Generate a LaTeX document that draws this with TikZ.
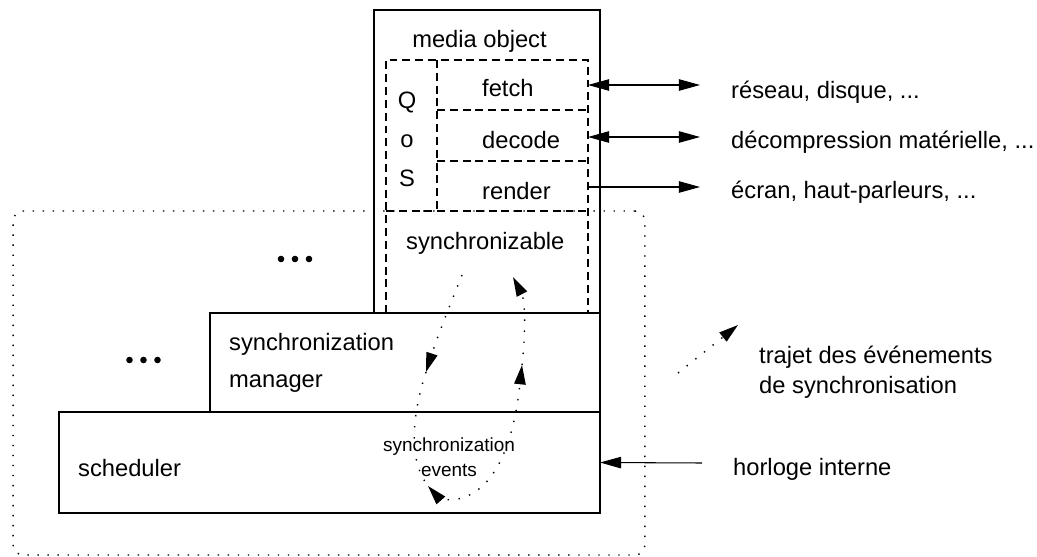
\documentclass[tikz,border=0pt]{standalone}
\usepackage{fontspec}
\setmainfont{Liberation Sans}
\usetikzlibrary{arrows.meta, positioning}

\begin{document}
\begin{tikzpicture}[
        x=0.02cm, y=-0.02cm,
        font=\fontsize{13.5}{21}\selectfont,
        layer/.style={rectangle, draw, line width=0.7pt, inner sep=0pt, outer sep=0pt},
        part/.style={line width=0.6pt, dash pattern=on 4.5pt off 2.8pt},
        syncregion/.style={rectangle, draw, line width=0.8pt, dash pattern=on 0.8pt off 4.9pt, rounded corners=0.2cm, inner sep=0pt},
        link/.style={line width=0.6pt, >={Triangle[length=12pt, width=6.5pt]}},
        event/.style={line width=0.8pt, dash pattern=on 0.8pt off 5.5pt, >={Triangle[length=11pt, width=6.5pt]}},
        small/.style={font=\fontsize{10.8}{14}\selectfont, align=center}
    ]
        \useasboundingbox (0,0) rectangle (1037,557);

        % Layers of the player
        \node[layer, minimum width=4.52cm, minimum height=6.06cm] (media) at (487,161.5) {};
        \node[layer, minimum width=7.8cm, minimum height=1.98cm] (manager) at (405,362.5) {};
        \node[layer, minimum width=10.82cm, minimum height=2.02cm] (sched) at (329.5,462.5) {};
        \node[syncregion, minimum width=12.64cm, minimum height=6.88cm] (sync) at (329,383) {};

        % Parts of the media object
        \draw[part] (386,313) |- (588,60) -- (588,313);
        \draw[part] (437,60) -- (437,211);
        \draw[part] (437,110) -- (588,110);
        \draw[part] (437,161) -- (588,161);
        \draw[part] (386,211) -- (588,211);

        \node[anchor=base] (title) at (479.5,48) {media object};
        \node[anchor=base west] (fetch) at (476,97) {fetch};
        \node[anchor=base west] (decode) at (476,149) {decode};
        \node[anchor=base west] (render) at (476,199) {render};
        \foreach \l/\y in {Q/109, o/148, S/187}
            \node[anchor=base] (qos\l) at (407,\y) {\l};
        \node[anchor=base west] (synchro) at (400,249) {synchronizable};
        \node[anchor=base west, align=left] (mgrtext) at (223,387) {synchronization\\manager};
        \node[anchor=base west] (schedtext) at (72,476) {scheduler};
        \node[small, anchor=base] (evtext) at (449,476) {synchronization\\events};

        \foreach \dx in {-14,0,14} {
            \fill (295+\dx,259) circle (0.066cm);
            \fill (143.5+\dx,360) circle (0.066cm);
        }

        % Outside world
        \coordinate (fetchR) at (588,85);
        \coordinate (netL) at (700,85);
        \coordinate (decodeR) at (588,137);
        \coordinate (hwL) at (700,137);
        \coordinate (renderR) at (588,187);
        \coordinate (screenL) at (700,187);
        \coordinate (clock) at (702,463);

        \draw[link, <->] (fetchR) -- (netL);
        \draw[link, <->] (decodeR) -- (hwL);
        \draw[link, ->] (renderR) -- (screenL);
        \draw[link, ->] (clock) -- (sched.east);

        \node[anchor=base west] (net) at (725,99) {réseau, disque, ...};
        \node[anchor=base west] (hw) at (725,149) {décompression matérielle, ...};
        \node[anchor=base west] (screen) at (725,198) {écran, haut-parleurs, ...};
        \node[anchor=base west] (clocktext) at (727,475) {horloge interne};

        % Synchronization events
        \coordinate (syncOut) at (462,275);
        \coordinate (mgrDown) at (426,372);
        \coordinate (schedIn) at (428,486);
        \coordinate (schedLow) at (452,500);
        \coordinate (mgrUp) at (522,365);
        \coordinate (syncIn) at (513,277);

        \draw[event, ->] (syncOut) .. controls (452,300) and (438,335) .. (mgrDown);
        \draw[event] (mgrDown) .. controls (412,415) and (408,460) .. (schedIn);
        \draw[event, <->] (schedIn) .. controls (436,495) and (444,500) .. (schedLow)
            .. controls (500,495) and (515,430) .. (mgrUp);
        \draw[event, ->] (mgrUp) .. controls (526,330) and (525,300) .. (syncIn);

        % Legend
        \coordinate (legA) at (678,373);
        \coordinate (legB) at (738,325);
        \draw[event, ->] (legA) -- (legB);
        \node[anchor=base west, align=left, font=\fontsize{13.5}{17}\selectfont] (legtext) at (753,393) {trajet des événements\\de synchronisation};

    \end{tikzpicture}
\end{document}
